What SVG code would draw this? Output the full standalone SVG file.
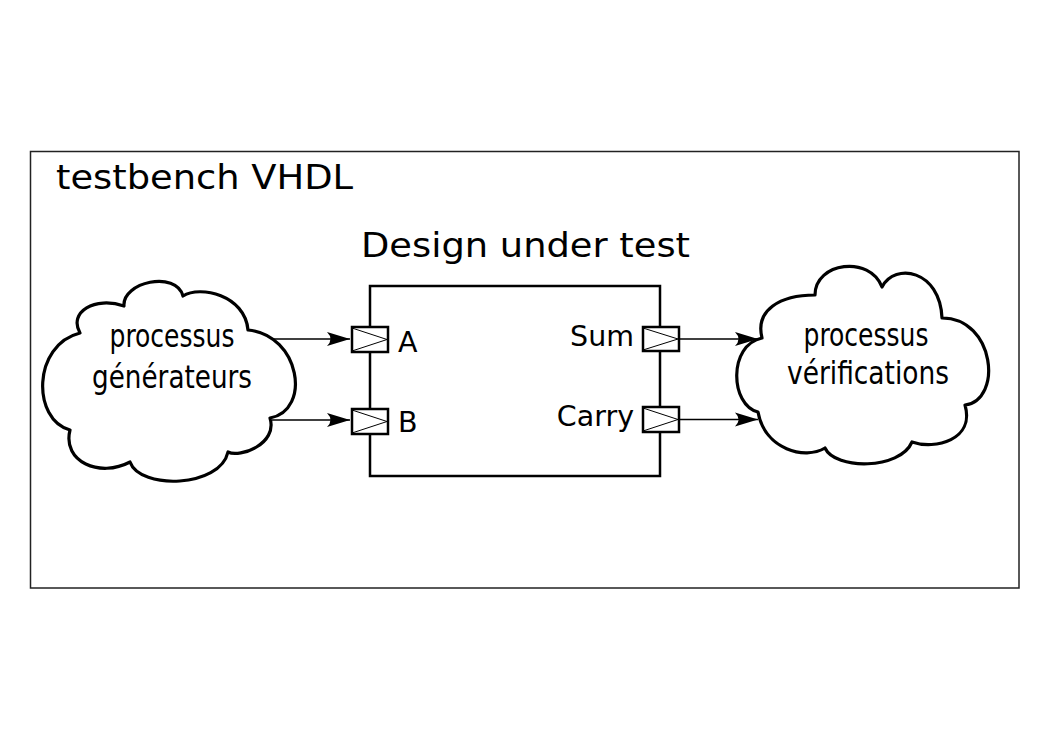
<svg xmlns="http://www.w3.org/2000/svg" width="1053" height="745" viewBox="0 0 1053 745">
<style>
.title{font-family:"DejaVu Sans","Liberation Sans",sans-serif;font-size:34px;fill:#000}
.lbl{font-family:"DejaVu Sans","Liberation Sans",sans-serif;font-size:28.5px;fill:#000}
.cl{font-family:"DejaVu Sans Condensed","DejaVu Sans","Liberation Sans",sans-serif;font-stretch:condensed;font-size:32px;fill:#000}
.cloud{fill:#fff;stroke:#000;stroke-width:3.2;stroke-linejoin:round}
.port{fill:#fff;stroke:#000;stroke-width:2.5}
.tri{fill:none;stroke:#000;stroke-width:1}
.wire{fill:none;stroke:#000;stroke-width:1.5}
</style>
<defs>
<marker id="arr" markerUnits="userSpaceOnUse" markerWidth="30" markerHeight="20" viewBox="-24 -10 26 20" refX="0" refY="0" orient="auto">
<path d="M0,0 L-23,-7 Q-16,0 -23,7 Z" fill="#000"/>
</marker>
</defs>
<rect width="1053" height="745" fill="#fff"/>
<g id="testbench">
<rect x="30.5" y="151.5" width="988.5" height="436.5" fill="none" stroke="#222" stroke-width="1.5"/>
<text class="title" x="56" y="189" textLength="297" lengthAdjust="spacingAndGlyphs">testbench VHDL</text>
</g>
<g id="dut">
<text class="title" x="361" y="257" textLength="329" lengthAdjust="spacingAndGlyphs">Design under test</text>
<rect x="370" y="286" width="290" height="190" fill="#fff" stroke="#000" stroke-width="2.5"/>
</g>
<g id="port-A">
<rect class="port" x="352" y="327" width="36" height="25"/>
<path class="tri" d="M352,328 L387,339.5 L352,351"/>
<text class="lbl" x="398" y="352">A</text>
</g>
<g id="port-B">
<rect class="port" x="352" y="409" width="36" height="25"/>
<path class="tri" d="M352,410 L387,421.5 L352,433"/>
<text class="lbl" x="398" y="432">B</text>
</g>
<g id="port-Sum">
<rect class="port" x="643" y="327" width="36" height="24"/>
<path class="tri" d="M643,328 L678,339 L643,350"/>
<text class="lbl" x="634" y="346" text-anchor="end">Sum</text>
</g>
<g id="port-Carry">
<rect class="port" x="643" y="407" width="36" height="25"/>
<path class="tri" d="M643,408 L678,419.5 L643,431"/>
<text class="lbl" x="634" y="426" text-anchor="end">Carry</text>
</g>
<g id="connectors">
<path class="wire" d="M272,339 H350" marker-end="url(#arr)"/>
<path class="wire" d="M272,420 H350" marker-end="url(#arr)"/>
<path class="wire" d="M679,339 H758" marker-end="url(#arr)"/>
<path class="wire" d="M679,419.5 H758" marker-end="url(#arr)"/>
</g>
<g id="cloud-generateurs">
<path class="cloud" d="M80,333 C68,312 95,296 124,306 C122,282 176,270 183,296 C200,285 245,295 248,330 C300,335 312,410 270,418 C278,444 240,458 228,452 C220,488 140,490 130,462 C100,478 62,462 70,430 C32,420 32,345 80,333 Z"/>
<text class="cl" x="172" y="347" text-anchor="middle" textLength="125" lengthAdjust="spacingAndGlyphs">processus</text>
<text class="cl" x="172" y="388" text-anchor="middle" textLength="160" lengthAdjust="spacingAndGlyphs">générateurs</text>
</g>
<g id="cloud-verifications">
<path class="cloud" d="M762,338 C755,310 780,295 815,295 C815,262 870,255 882,287 C895,262 940,270 942,318 C995,318 1003,400 965,405 C975,440 935,450 912,442 C900,470 835,470 825,448 C805,460 765,450 758,412 C730,405 728,345 762,338 Z"/>
<text class="cl" x="866" y="346" text-anchor="middle" textLength="125" lengthAdjust="spacingAndGlyphs">processus</text>
<text class="cl" x="868" y="384" text-anchor="middle" textLength="162" lengthAdjust="spacingAndGlyphs">vérifications</text>
</g>
</svg>
